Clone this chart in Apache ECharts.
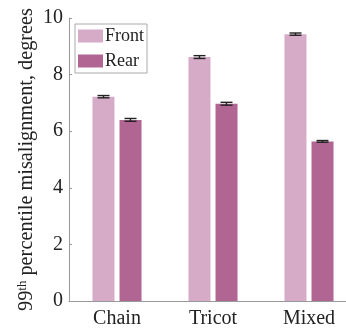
<!DOCTYPE html>
<html><head><meta charset="utf-8">
<script src="https://cdn.jsdelivr.net/npm/echarts@6/dist/echarts.min.js"></script>
<style>html,body{margin:0;padding:0;background:#fff}#c{width:346px;height:329px}</style>
</head><body><div id="c"></div>
<script>
const categories = ['Chain', 'Tricot', 'Mixed'];
const frontValues = [7.22, 8.62, 9.43];
const rearValues = [6.40, 6.97, 5.64];
const frontErr = [0.04, 0.05, 0.04];
const rearErr = [0.05, 0.05, 0.03];
const yTicks = [0, 2, 4, 6, 8, 10];

const FONT = '"Liberation Serif", "DejaVu Serif", serif';
const chart = echarts.init(document.getElementById('c'));

function errData(vals, errs) {
  return vals.map((v, i) => [i, v - errs[i], v + errs[i]]);
}
function errSeries(vals, errs, offset) {
  return {
    type: 'custom', silent: true, z: 10,
    data: errData(vals, errs),
    encode: {x: 0, y: [1, 2]},
    renderItem: function (params, api) {
      const lo = api.coord([api.value(0), api.value(1)]);
      const hi = api.coord([api.value(0), api.value(2)]);
      const x = lo[0] + offset, w = 6;
      const st = {stroke: '#222', lineWidth: 1.4};
      return {type: 'group', children: [
        {type: 'line', shape: {x1: x, y1: lo[1], x2: x, y2: hi[1]}, style: st},
        {type: 'line', shape: {x1: x - w, y1: lo[1], x2: x + w, y2: lo[1]}, style: st},
        {type: 'line', shape: {x1: x - w, y1: hi[1], x2: x + w, y2: hi[1]}, style: st}
      ]};
    }
  };
}

chart.setOption({
  animation: false,
  textStyle: {fontFamily: FONT},
  grid: {left: 69, top: 18, width: 288, height: 283, containLabel: false, outerBoundsMode: 'none'},
  legend: {
    orient: 'vertical', left: 75, top: 24,
    data: ['Front', 'Rear'],
    itemWidth: 25, itemHeight: 13, itemGap: 7,
    padding: [3, 3, 3, 3],
    borderColor: '#aaa', borderWidth: 1, backgroundColor: '#fff',
    textStyle: {fontFamily: FONT, fontSize: 18, color: '#222', lineHeight: 13, padding: [0, 0, 0, -3]},
    icon: 'rect'
  },
  xAxis: {
    type: 'category', data: categories,
    axisLine: {lineStyle: {color: '#999'}},
    axisTick: {inside: false, length: 3, alignWithLabel: true, lineStyle: {color: '#999'}},
    axisLabel: {fontFamily: FONT, fontSize: 20, color: '#222', margin: 8}
  },
  yAxis: {
    type: 'value', min: 0, max: 10, interval: 2,
    splitLine: {show: false},
    axisLine: {show: true, lineStyle: {color: '#999'}},
    axisTick: {show: true, inside: true, length: 3, lineStyle: {color: '#999'}},
    axisLabel: {fontFamily: FONT, fontSize: 20, color: '#222', margin: 6,
      formatter: v => yTicks.includes(v) ? String(v) : ''},
    name: '{a|99}{s|th}{a| percentile misalignment, degrees}',
    nameLocation: 'middle', nameRotate: 90, nameGap: 31, nameMoveOverlap: false,
    nameTextStyle: {
      rich: {
        a: {fontFamily: FONT, fontSize: 20.3, color: '#222', lineHeight: 22},
        s: {fontFamily: FONT, fontSize: 13, color: '#222', verticalAlign: 'top', lineHeight: 22, padding: [0, 0, 8, 0]}
      }
    }
  },
  series: [
    {name: 'Front', type: 'bar', data: frontValues, barWidth: 22, barGap: '23%',
      itemStyle: {color: '#d5abc8'}},
    {name: 'Rear', type: 'bar', data: rearValues, barWidth: 22,
      itemStyle: {color: '#b06592'}},
    errSeries(frontValues, frontErr, -13.5),
    errSeries(rearValues, rearErr, 13.5)
  ]
});
</script></body></html>
